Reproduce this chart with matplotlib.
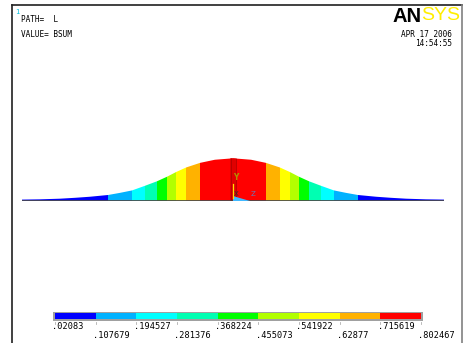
import matplotlib
matplotlib.use('Agg')
import matplotlib.pyplot as plt
import numpy as np
from matplotlib.patches import Polygon, Rectangle

# path distance (0..100 along L) and BSUM values
dist = [0.0, 4.3, 9.0, 12.6, 16.1, 20.4, 23.2, 26.1, 29.1, 32.0, 34.4, 36.5,
        38.9, 42.2, 45.7, 50.0, 54.3, 57.8, 61.1, 63.5, 65.6, 68.0, 70.9,
        73.9, 76.8, 79.6, 83.9, 87.4, 91.0, 95.7, 100.0]
bsum = [0.021, 0.026, 0.038, 0.055, 0.075, 0.108, 0.148, 0.195, 0.281, 0.368,
        0.455, 0.542, 0.629, 0.716, 0.775, 0.8024, 0.775, 0.716, 0.629, 0.542,
        0.455, 0.368, 0.281, 0.195, 0.148, 0.108, 0.075, 0.055, 0.038, 0.026,
        0.021]

levels = [0.02083, 0.107679, 0.194527, 0.281376, 0.368224, 0.455073,
          0.541922, 0.62877, 0.715619, 0.802467]
level_labels = ['.02083', '.107679', '.194527', '.281376', '.368224',
                '.455073', '.541922', '.62877', '.715619', '.802467']
band_colors = ['#0000ff', '#00b2ff', '#00ffff', '#00ffb2', '#00ff00',
               '#b2ff00', '#ffff00', '#ffb200', '#ff0000']

W, H = 464, 343
fig = plt.figure(figsize=(W / 100, H / 100), dpi=100)
fig.patch.set_facecolor('white')

mono = 'DejaVu Sans Mono'

# --- path plot: height and colour both follow BSUM ---
ax = fig.add_axes([22 / W, (H - 200.7) / H, 422 / W, 52.84 / H])
ax.set_xlim(0, 100)
ax.set_ylim(0, 1)
ax.axis('off')

x = np.array(dist)
v = np.array(bsum)
cs = ax.contourf(x, [0, 1], np.vstack([v, v]), levels=levels, colors=band_colors)
verts = np.column_stack([np.r_[x, x[::-1]], np.r_[v, np.zeros_like(v)]])
shape = Polygon(verts, closed=True, facecolor='none', edgecolor='none',
                transform=ax.transData)
ax.add_patch(shape)
cs.set_clip_path(shape)

# darker strip at the centre node
strip = ax.axvspan(49.4, 50.8, color='#e00000', lw=0)
strip.set_clip_path(shape)
for xv in (49.5, 50.7):
    ln = ax.axvline(xv, color='#a80000', lw=0.5)
    ln.set_clip_path(shape)
ax.axhline(0, color='#404040', lw=1.2)

# --- overlay in pixel coordinates ---
ov = fig.add_axes([0, 0, 1, 1], zorder=5)
ov.set_xlim(0, W)
ov.set_ylim(H, 0)
ov.axis('off')
ov.patch.set_alpha(0)

# window frame
ov.plot([12, 12], [5, H], color='#202020', lw=1.2)
ov.plot([12, 462], [5, 5], color='#202020', lw=1.2)
ov.plot([462, 462], [5, H], color='#808080', lw=1.2)

ov.text(15, 12, '1', color='#00c0e0', fontsize=5, family=mono, ha='left', va='center')
ov.text(21, 20, 'PATH=  L', fontsize=5.6, family=mono, ha='left', va='center')
ov.text(21, 34.5, 'VALUE= BSUM', fontsize=5.6, family=mono, ha='left', va='center')

ov.text(422, 16, 'AN', fontsize=14.5, fontweight='black', family='Liberation Sans',
        ha='right', va='center', color='black')
ov.text(421, 16, 'SYS', fontsize=14, family='Liberation Sans',
        ha='left', va='center', color='#ffee00')
ov.text(452, 34.5, 'APR 17 2006', fontsize=5.6, family=mono, ha='right', va='center')
ov.text(452, 44, '14:54:55', fontsize=5.6, family=mono, ha='right', va='center')

# coordinate triad
ov.add_patch(Polygon([[233, 196], [233, 201], [250, 201]], closed=True,
                     facecolor='#40b8ff', edgecolor='none'))
ov.plot([233.3, 233.3], [184, 198], color='#ffe000', lw=0.9)
ov.text(235.5, 178, 'Y', fontsize=5.5, color='#b09000', fontweight='bold',
        ha='center', va='center')
ov.text(236, 193.5, 'X', fontsize=5, color='#303030', ha='center', va='center')
ov.text(253.5, 194.5, 'Z', fontsize=5, color='#6a78b8', ha='center', va='center')

# --- legend bar ---
bar_left, bar_right = 55, 421
step = (bar_right - bar_left) / (len(levels) - 1)
ov.add_patch(Rectangle((bar_left - 2, 311.5), bar_right - bar_left + 4, 9.5,
                       facecolor='#a0a0a0', edgecolor='none'))
for i, c in enumerate(band_colors):
    ov.add_patch(Rectangle((bar_left + i * step, 313.2), step, 6.0,
                           facecolor=c, edgecolor='none'))
for i, lab in enumerate(level_labels):
    px = bar_left + i * step
    ov.plot([px, px], [321.5, 324], color='#b0b0b0', lw=0.6)
    yy = 326.5 if i % 2 == 0 else 335.5
    ov.text(px - 2.5, yy, lab, fontsize=6.2, family=mono, ha='left', va='center')

fig.savefig('out.png', dpi=100, facecolor='white')
